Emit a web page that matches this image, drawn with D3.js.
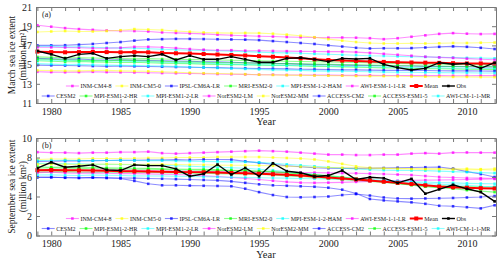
<!DOCTYPE html>
<html>
<head>
<meta charset="utf-8">
<script src="https://cdn.jsdelivr.net/npm/d3@7"></script>
<style>
  body { margin: 0; background: #fff; }
  svg text { font-family: "Liberation Serif", "Times New Roman", serif; fill: #222; }
</style>
</head>
<body>
<svg id="chart" width="500" height="260"></svg>
<script>
// years 1979..2012
const years = d3.range(1979, 2013);

const models = ['INM-CM4-8', 'INM-CM5-0', 'IPSL-CM6A-LR', 'MRI-ESM2-0', 'MPI-ESM-1-2-HAM', 'AWI-ESM-1-1-LR',
  'CESM2', 'MPI-ESM1-2-HR', 'MPI-ESM1-2-LR', 'NorESM2-LM', 'NorESM2-MM', 'ACCESS-CM2', 'ACCESS-ESM1-5', 'AWI-CM-1-1-MR'];
const modelColors = ['#ff00ff', '#ffff00', '#0000ff', '#00ff00', '#00ffff', '#ff00ff',
  '#0000ff', '#00ff00', '#00ffff', '#ff00ff', '#ffff00', '#0000ff', '#00ff00', '#00ffff'];

const marchTicks = [11, 13, 15, 17, 19, 21];
const septTicks = [0, 2, 4, 6, 8, 10];

// ---- March extent (million km2) ----
const marINM48 = [19.10,18.95,18.80,18.70,18.62,18.55,18.50,18.50,18.45,18.35,18.30,18.25,18.20,18.12,18.05,18.00,17.95,17.92,17.88,17.85,17.82,17.80,17.82,17.80,17.75,17.65,17.75,17.90,18.05,18.20,18.28,18.22,18.18,18.20];
const marINM50 = [18.40,18.45,18.50,18.45,18.45,18.50,18.58,18.70,18.65,18.60,18.50,18.42,18.35,18.30,18.28,18.30,18.28,18.22,18.12,18.00,17.85,17.65,17.50,17.35,17.25,17.20,17.20,17.22,17.20,17.22,17.25,17.25,17.28,17.30];
const marIPSL = [17.00,17.00,17.02,17.08,17.15,17.25,17.35,17.50,17.62,17.65,17.68,17.68,17.66,17.64,17.62,17.60,17.55,17.45,17.35,17.25,17.15,17.00,16.88,16.75,16.68,16.70,16.70,16.72,16.78,16.85,16.90,16.85,16.75,16.62];
const marMRI = [15.80,15.75,15.70,15.72,15.68,15.65,15.62,15.60,15.62,15.58,15.55,15.52,15.50,15.48,15.45,15.42,15.40,15.38,15.35,15.32,15.30,15.28,15.25,15.22,15.20,15.15,15.12,15.10,15.08,15.05,15.05,15.02,15.00,15.00];
const marMPIHAM = [16.90,16.90,16.85,16.85,16.80,16.75,16.72,16.70,16.65,16.60,16.55,16.50,16.48,16.45,16.40,16.35,16.30,16.25,16.22,16.18,16.12,16.08,16.02,15.98,15.92,15.90,15.86,15.82,15.80,15.76,15.74,15.70,15.68,15.65];
const marAWIESM = [16.80,16.80,16.78,16.75,16.70,16.70,16.75,16.85,16.85,16.80,16.72,16.62,16.55,16.50,16.50,16.45,16.45,16.42,16.40,16.38,16.36,16.35,16.35,16.30,16.22,16.12,16.02,15.92,15.82,15.75,15.70,15.62,15.55,15.50];
const marCESM2 = [15.65,15.60,15.55,15.58,15.50,15.48,15.50,15.45,15.42,15.40,15.38,15.35,15.30,15.28,15.25,15.20,15.15,15.12,15.10,15.05,15.00,14.98,14.95,14.92,14.90,14.88,14.85,14.85,14.82,14.80,14.80,14.78,14.76,14.75];
const marMPIHR = [15.40,15.35,15.30,15.32,15.28,15.25,15.22,15.25,15.20,15.15,15.12,15.10,15.05,15.02,15.00,14.98,14.95,14.92,14.90,14.86,14.82,14.80,14.76,14.72,14.70,14.66,14.64,14.60,14.58,14.56,14.55,14.52,14.50,14.50];
const marMPILR = [15.50,15.45,15.42,15.40,15.38,15.40,15.35,15.32,15.30,15.25,15.22,15.18,15.15,15.10,15.05,15.00,14.98,14.95,14.92,14.90,14.88,14.85,14.82,14.80,14.78,14.75,14.72,14.70,14.68,14.66,14.65,14.62,14.60,14.60];
const marNorLM = [14.25,14.22,14.20,14.22,14.25,14.22,14.20,14.18,14.15,14.12,14.10,14.08,14.05,14.02,14.00,13.98,13.95,13.95,13.92,13.92,13.90,13.90,13.88,13.88,13.88,13.86,13.86,13.85,13.85,13.85,13.84,13.84,13.85,13.85];
const marNorMM = [14.40,14.38,14.35,14.35,14.38,14.40,14.35,14.32,14.30,14.25,14.20,14.15,14.10,14.08,14.05,14.00,13.95,13.92,13.90,13.88,13.86,13.85,13.84,13.82,13.80,13.80,13.78,13.76,13.75,13.74,13.72,13.72,13.70,13.70];
const marACCCM2 = [14.95,14.92,14.90,14.88,14.85,14.82,14.85,14.82,14.80,14.78,14.75,14.72,14.70,14.68,14.65,14.62,14.60,14.58,14.55,14.52,14.50,14.48,14.45,14.45,14.42,14.40,14.40,14.38,14.38,14.36,14.35,14.35,14.33,14.32];
const marACCESM = [15.60,15.55,15.50,15.45,15.42,15.40,15.45,15.42,15.38,15.35,15.30,15.28,15.25,15.22,15.20,15.18,15.15,15.12,15.10,15.08,15.05,15.02,15.00,14.98,14.95,14.92,14.90,14.88,14.86,14.84,14.82,14.80,14.80,14.78];
const marAWICM = [15.10,15.05,15.00,15.02,14.98,14.95,14.92,14.90,14.88,14.85,14.80,14.75,14.70,14.65,14.60,14.55,14.50,14.45,14.42,14.40,14.35,14.32,14.30,14.28,14.25,14.22,14.20,14.20,14.18,14.16,14.15,14.15,14.12,14.12];
const marMean = [16.35,16.30,16.28,16.30,16.32,16.30,16.28,16.30,16.28,16.22,16.18,16.15,16.10,16.05,16.00,15.95,15.88,15.82,15.75,15.65,15.55,15.48,15.42,15.38,15.32,15.28,15.25,15.22,15.20,15.18,15.15,15.12,15.12,15.10];
const marObs = [16.42,16.07,15.65,16.07,16.17,15.65,15.83,15.93,15.83,16.07,15.48,15.93,15.55,15.55,15.83,15.55,15.24,15.24,15.65,15.72,15.55,15.31,15.65,15.58,15.65,15.03,14.69,14.44,14.61,15.20,15.03,15.13,14.61,15.20];

// ---- September extent (million km2) ----
const sepINM48 = [8.55,8.50,8.50,8.45,8.50,8.50,8.55,8.55,8.60,8.45,8.40,8.45,8.50,8.55,8.60,8.65,8.70,8.65,8.60,8.50,8.40,8.30,8.30,8.25,8.25,8.30,8.30,8.40,8.45,8.40,8.50,8.52,8.50,8.50];
const sepINM50 = [7.80,7.85,7.85,7.85,7.90,7.90,7.90,7.92,7.95,7.95,8.00,8.00,8.00,8.05,8.05,8.05,8.05,8.00,7.95,7.90,7.80,7.60,7.35,7.10,6.95,6.90,6.90,6.85,6.85,6.85,6.85,6.85,6.80,6.85];
const sepIPSL = [7.60,7.62,7.65,7.65,7.68,7.70,7.72,7.72,7.75,7.75,7.78,7.75,7.80,7.80,7.78,7.60,7.45,7.30,7.15,7.05,6.95,6.90,6.88,6.88,6.90,6.92,6.95,6.98,7.00,7.02,6.85,6.55,6.30,6.00];
const sepMRI = [6.90,6.95,6.90,6.88,6.85,6.85,6.82,6.80,6.80,6.78,6.75,6.72,6.70,6.68,6.65,6.60,6.55,6.50,6.42,6.35,6.25,6.15,6.00,5.85,5.70,5.55,5.35,5.15,5.00,4.90,4.80,4.65,4.55,4.45];
const sepMPIHAM = [7.70,7.70,7.72,7.70,7.68,7.70,7.72,7.70,7.68,7.70,7.65,7.62,7.60,7.58,7.55,7.55,7.50,7.40,7.30,7.20,7.10,7.00,6.90,6.82,6.75,6.70,6.68,6.66,6.65,6.60,6.55,6.50,6.45,6.40];
const sepAWIESM = [6.70,6.72,6.70,6.68,6.70,6.72,6.70,6.68,6.65,6.62,6.60,6.58,6.55,6.55,6.52,6.50,6.50,6.48,6.48,6.45,6.45,6.42,6.40,6.38,6.35,6.30,6.25,6.20,6.10,6.00,5.95,5.90,5.88,5.85];
const sepCESM2 = [6.00,5.98,5.95,5.92,5.95,5.90,5.85,5.60,5.30,5.15,5.15,5.12,5.10,5.08,5.05,4.80,4.45,4.15,3.95,3.92,3.95,4.00,4.15,4.25,4.10,3.90,3.80,3.78,3.80,3.82,3.85,3.90,3.95,4.05];
const sepMPIHR = [6.50,6.52,6.55,6.50,6.48,6.50,6.52,6.50,6.48,6.45,6.42,6.40,6.38,6.35,6.32,6.30,6.25,6.20,6.12,6.05,5.95,5.85,5.75,5.65,5.55,5.45,5.35,5.25,5.15,5.10,5.05,5.00,5.00,4.95];
const sepMPILR = [7.40,7.38,7.35,7.35,7.30,7.30,7.28,7.25,7.22,7.20,7.15,7.10,7.05,7.00,6.95,6.90,6.80,6.70,6.55,6.40,6.25,6.10,5.95,5.85,5.75,5.65,5.55,5.45,5.35,5.25,5.20,5.15,5.05,5.00];
const sepNorLM = [6.45,6.48,6.42,6.40,6.42,6.38,6.35,6.35,6.32,6.28,6.25,6.20,6.12,6.05,5.95,5.85,5.75,5.62,5.50,5.42,5.40,5.42,5.45,5.50,5.55,5.60,5.62,5.65,5.68,5.70,5.72,5.75,5.78,5.80];
const sepNorMM = [7.30,7.32,7.30,7.28,7.30,7.32,7.30,7.28,7.30,7.30,7.28,7.25,7.25,7.22,7.20,7.20,7.18,7.15,7.10,7.05,7.00,6.98,6.95,6.92,6.90,6.88,6.85,6.82,6.80,6.80,6.78,6.75,6.75,6.72];
const sepACCCM2 = [5.95,5.98,5.92,5.90,5.95,5.92,5.90,5.88,5.85,5.82,5.78,5.75,5.70,5.65,5.55,5.40,5.25,5.15,5.10,5.05,5.00,4.90,4.70,4.30,3.75,3.60,3.50,3.40,3.25,3.05,3.00,2.90,2.78,3.10];
const sepACCESM = [7.05,7.00,7.02,7.00,6.98,6.95,6.92,6.90,6.88,6.85,6.82,6.80,6.78,6.75,6.70,6.65,6.60,6.55,6.45,6.35,6.22,6.10,5.95,5.80,5.65,5.50,5.35,5.20,5.05,4.95,4.90,4.85,4.82,4.80];
const sepAWICM = [6.20,6.22,6.18,6.15,6.20,6.18,6.15,6.12,6.10,6.10,6.08,6.05,6.02,6.00,5.98,5.95,5.92,5.90,5.88,5.85,5.82,5.80,5.75,5.72,5.68,5.62,5.58,5.52,5.48,5.42,5.40,5.35,5.32,5.30];
const sepMean = [6.70,6.72,6.70,6.68,6.66,6.63,6.60,6.58,6.56,6.55,6.52,6.50,6.48,6.45,6.42,6.38,6.33,6.28,6.22,6.15,6.05,5.95,5.85,5.75,5.65,5.52,5.40,5.28,5.15,5.02,4.95,4.90,4.85,4.82];
const sepObs = [6.90,7.51,7.00,7.10,7.24,6.73,6.66,7.24,7.17,7.17,6.83,6.08,6.32,7.28,6.25,6.93,6.08,7.41,6.60,6.43,6.05,6.15,6.66,5.74,5.98,5.88,5.40,5.81,4.29,4.73,5.20,4.79,4.45,3.50];

const marchSeries = [marINM48, marINM50, marIPSL, marMRI, marMPIHAM, marAWIESM, marCESM2,
  marMPIHR, marMPILR, marNorLM, marNorMM, marACCCM2, marACCESM, marAWICM];
const septSeries = [sepINM48, sepINM50, sepIPSL, sepMRI, sepMPIHAM, sepAWIESM, sepCESM2,
  sepMPIHR, sepMPILR, sepNorLM, sepNorMM, sepACCCM2, sepACCESM, sepAWICM];

const svg = d3.select('#chart');
const x = d3.scaleLinear().domain([1978.9, 2012.1]).range([36, 496]);

const panels = [
  { top: 7, bottom: 103, domain: [11, 21], ticks: marchTicks, tag: '(a)',
    label: 'March sea ice extent', series: marchSeries, mean: marMean, obs: marObs },
  { top: 138, bottom: 235.5, domain: [0, 10], ticks: septTicks, tag: '(b)',
    label: 'September sea ice extent', series: septSeries, mean: sepMean, obs: sepObs }
];

// 画方块标记
function markers(g, vals, y, size, color, opacity) {
  g.append('g').selectAll('rect').data(vals).join('rect')
    .attr('x', (d, i) => x(years[i]) - size / 2)
    .attr('y', d => y(d) - size / 2)
    .attr('width', size).attr('height', size)
    .attr('fill', color).attr('fill-opacity', opacity);
}

// 一行图例，居中于 midX
function legendRow(g, items, yy, midX) {
  const entries = items.map(it => {
    const e = g.append('g');
    e.append('line').attr('x1', 0).attr('x2', 13).attr('y1', yy).attr('y2', yy)
      .attr('stroke', it.color).attr('stroke-width', it.lw).attr('stroke-opacity', it.lo);
    e.append('rect').attr('x', 6.5 - it.ms / 2).attr('y', yy - it.ms / 2)
      .attr('width', it.ms).attr('height', it.ms).attr('fill', it.color).attr('fill-opacity', it.mo);
    const t = e.append('text').attr('x', 14.5).attr('y', yy).attr('dy', '0.35em')
      .attr('font-size', 6).text(it.name);
    return { e, w: 14.5 + t.node().getComputedTextLength() };
  });
  const gap = 4;
  const total = d3.sum(entries, d => d.w) + gap * (entries.length - 1);
  let cx = midX - total / 2;
  entries.forEach(d => {
    d.e.attr('transform', `translate(${cx},0)`);
    cx += d.w + gap;
  });
}

function drawPanel(p) {
  const g = svg.append('g');
  const y = d3.scaleLinear().domain(p.domain).range([p.bottom, p.top]);
  const line = d3.line().x((d, i) => x(years[i])).y(d => y(d));

  // 模式曲线
  p.series.forEach((vals, k) => {
    g.append('path').attr('d', line(vals)).attr('fill', 'none')
      .attr('stroke', modelColors[k]).attr('stroke-opacity', 0.45).attr('stroke-width', 1.1);
    markers(g, vals, y, 2.6, modelColors[k], 0.75);
  });

  // 集合平均
  g.append('path').attr('d', line(p.mean)).attr('fill', 'none')
    .attr('stroke', '#ff0000').attr('stroke-width', 2);
  markers(g, p.mean, y, 4, '#ff0000', 1);

  // 观测
  g.append('path').attr('d', line(p.obs)).attr('fill', 'none')
    .attr('stroke', '#000').attr('stroke-width', 1.4);
  markers(g, p.obs, y, 2.6, '#000', 1);

  // 坐标轴（刻度朝内）
  const axisStyle = sel => sel.attr('color', '#777').attr('font-size', 10);
  g.append('g').attr('transform', `translate(0,${p.bottom})`)
    .call(d3.axisBottom(x).tickValues(years).tickSize(-4).tickSizeOuter(0).tickPadding(4.5)
      .tickFormat(d => d % 5 === 0 ? d : ''))
    .call(axisStyle);
  g.append('g').attr('transform', `translate(0,${p.top})`)
    .call(d3.axisTop(x).tickValues(years).tickSize(-4).tickSizeOuter(0).tickFormat(''))
    .call(axisStyle);
  g.append('g').attr('transform', `translate(${x.range()[0]},0)`)
    .call(d3.axisLeft(y).tickValues(p.ticks).tickSize(-4).tickSizeOuter(0).tickPadding(4))
    .call(axisStyle);
  g.append('g').attr('transform', `translate(${x.range()[1]},0)`)
    .call(d3.axisRight(y).tickValues(p.ticks).tickSize(-4).tickSizeOuter(0).tickFormat(''))
    .call(axisStyle);

  // 轴标题
  const midX = (x.range()[0] + x.range()[1]) / 2;
  g.append('text').attr('x', midX).attr('y', p.bottom + 22)
    .attr('text-anchor', 'middle').attr('font-size', 10.5).text('Year');

  const cy = (p.top + p.bottom) / 2;
  g.append('text').attr('transform', `translate(15,${cy}) rotate(-90)`)
    .attr('text-anchor', 'middle').attr('font-size', 9.5).text(p.label);
  g.append('text').attr('transform', `translate(25.5,${cy}) rotate(-90)`)
    .attr('text-anchor', 'middle').attr('font-size', 9.5).text('(million km²)');

  g.append('text').attr('x', 42).attr('y', p.top + 10).attr('font-size', 8).text(p.tag);

  // 图例
  const modelItem = k => ({ name: models[k], color: modelColors[k], lw: 1.1, lo: 0.45, ms: 2.6, mo: 0.75 });
  const row1 = [0, 1, 2, 3, 4, 5].map(modelItem).concat([
    { name: 'Mean', color: '#ff0000', lw: 2, lo: 1, ms: 4, mo: 1 },
    { name: 'Obs', color: '#000', lw: 1.4, lo: 1, ms: 2.6, mo: 1 }
  ]);
  const row2 = [6, 7, 8, 9, 10, 11, 12, 13].map(modelItem);
  legendRow(g, row1, p.bottom - 17, midX);
  legendRow(g, row2, p.bottom - 7, midX);
}

panels.forEach(drawPanel);
</script>
</body>
</html>
